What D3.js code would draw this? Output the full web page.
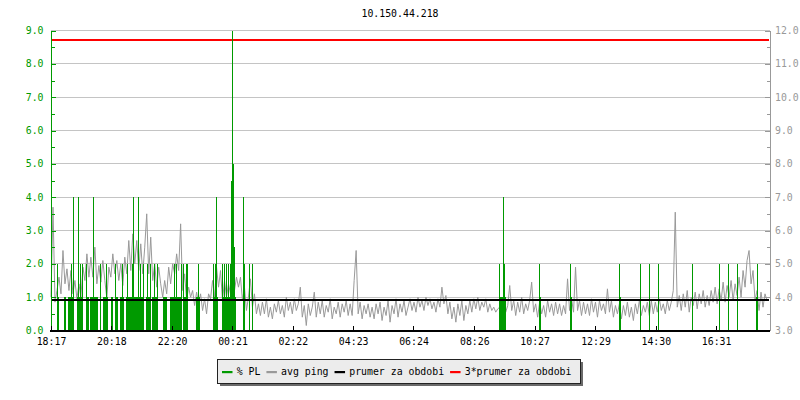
<!DOCTYPE html>
<html><head><meta charset="utf-8">
<script src="https://cdn.jsdelivr.net/npm/d3@7"></script>
<style>
body{margin:0;background:#fff;}
svg{display:block;font-family:"DejaVu Sans Mono",monospace;font-size:9.85px;}
</style></head><body>
<svg id="c" width="800" height="400"></svg>
<script>
const title = "10.150.44.218";
const startTime = "18:17";
const spanMinutes = 1440;
const timeTicks = ["18:17","20:18","22:20","00:21","02:22","04:23","06:24","08:26","10:27","12:29","14:30","16:31"];
const plTicks = [0,1,2,3,4,5,6,7,8,9];
const pingTicks = [3,4,5,6,7,8,9,10,11,12];
const pingStep = 4; // minutes between avg ping samples
const avgPing = [
 4.0,6.7,3.85,4.2,4.6,4.1,5.4,4.4,4.85,4.2,4.8,4.1,4.5,3.95,4.4,
 4.0,4.9,4.5,5.3,4.6,5.2,4.6,5.5,4.4,4.95,4.45,5.1,4.5,3.95,4.9,
 4.6,5.3,4.7,5.1,4.5,5.0,4.35,5.2,4.7,5.7,4.8,5.9,5.0,5.7,4.8,
 5.6,4.7,5.5,6.5,4.7,5.8,4.5,5.0,4.3,4.9,4.4,4.0,4.5,4.1,4.9,
 4.4,5.0,4.7,5.3,4.8,6.2,4.2,4.7,3.9,4.3,4.0,4.2,3.75,4.15,3.8,
 4.1,3.6,3.95,3.5,4.1,3.95,4.5,4.0,4.9,4.3,4.8,3.9,4.5,4.0,4.4,
 4.1,4.6,4.2,4.6,4.3,4.6,3.9,4.3,3.6,4.0,4.55,3.7,4.1,3.5,3.8,
 3.45,3.85,3.5,3.95,3.4,3.7,3.35,3.8,3.55,3.9,3.5,3.75,3.4,4.0,3.6,
 3.85,3.5,3.95,3.6,3.8,4.3,3.4,3.75,3.15,3.8,3.45,3.7,4.15,3.4,3.85,
 3.5,3.9,3.4,3.75,3.55,3.95,3.35,3.7,3.5,3.85,3.4,3.8,3.55,3.9,3.45,
 3.8,3.45,4.5,5.4,3.5,3.85,3.35,3.75,3.5,3.8,3.4,3.7,3.35,3.8,3.5,
 3.85,3.3,3.7,3.45,3.9,3.25,3.75,3.5,3.95,3.4,3.8,3.55,3.9,3.45,3.7,
 3.95,3.6,3.85,3.55,4.0,3.7,3.9,3.6,4.0,3.75,3.95,3.65,3.85,3.55,3.95,
 3.7,4.3,3.8,4.05,3.5,3.85,3.35,3.7,3.25,3.8,3.45,3.9,3.3,3.75,3.5,
 3.9,3.55,3.95,3.65,4.0,3.6,3.85,3.7,3.95,3.55,3.8,3.6,3.7,3.55,3.65,
 3.7,3.5,3.8,3.55,3.75,4.35,3.6,3.9,3.45,3.85,3.55,4.0,3.5,3.8,3.6,
 3.9,4.45,3.55,3.8,3.4,3.85,3.5,3.75,3.4,3.9,3.55,3.8,3.45,3.85,3.5,
 3.8,3.45,3.75,3.5,4.55,3.6,3.95,3.55,4.9,3.6,3.9,3.45,3.85,3.5,3.8,
 3.45,3.95,3.55,3.85,3.4,3.9,3.6,3.8,3.5,4.25,3.55,3.9,3.4,3.75,3.5,
 3.8,3.35,3.75,3.45,3.85,3.4,3.7,3.3,3.8,3.5,3.9,3.45,3.75,3.55,3.85,
 3.45,3.9,3.5,3.85,3.55,3.95,3.6,3.8,3.5,3.9,3.6,3.85,4.2,6.55,3.7,
 4.05,3.6,4.1,3.7,4.2,3.55,4.0,3.75,4.15,3.65,4.1,3.8,4.2,3.7,4.05,
 3.75,4.2,3.85,4.3,3.8,4.25,3.9,4.45,3.85,4.35,4.0,4.5,3.9,4.4,4.05,
 4.6,4.0,4.8,4.3,5.1,5.4,4.4,4.8,3.9,4.2,3.6,4.15,3.7,4.1,3.9
];
const plMinutes = [
 12,14, 26,28, 34,36,38,40,42,44, 52,54,56,58,60,62, 70,72,74, 78,80,82,84,86,88,90,92, 98,
 104,106,108,110,112, 120,122, 128,130,132, 138,140,142,144, 150,152,154,156,158,160,162,
 164,166,168,170,172,174,176,178,180,182,184, 190,192,194,196,198, 202,204,206,208,210,212,
 224,226,228,230, 238,240,242,244,246,248,250,252,254,256,258,260, 264,266,268,270,272, 290,292,294,296,
 324,326,328,330,332, 342,344,346,348,350,352,354,356,358,360,362,364,366,368,370, 386,388,398,404,
 898,900,902,904,906,908,910, 978,980, 1040,1042, 1140,1142, 1182,1200,1218,1286,1340,1358,1376,1414,1416];
const plValues = [
 2,1, 1,1, 1,1,1,2,1,4, 1,4,1,2,1,2, 2,1,1, 1,1,1,4,1,1,1,1, 2,
 1,1,1,2,1, 1,1, 2,1,1, 1,1,2,1, 1,2,1,1,1,1,2,
 4,1,1,1,1,4,1,2,1,1,2, 1,2,1,1,2, 1,1,2,1,1,2,
 1,1,1,1, 1,1,1,1,2,1,2,1,1,1,1,2, 2,1,1,2,2, 1,1,2,1,
 2,1,2,4,1, 2,1,2,1,2,1,2,1,2,1,4.5,9,5,2.5,1, 4,2,2,2,
 2,1,1,1,4,2,1, 2,1, 2,1, 2,1, 2,2,2,2,2,2,2,1,2];
const prumer = 3.91;
const legendLabels = ["% PL","avg ping","prumer za obdobi","3*prumer za obdobi"];
const legendColors = ["#009a00","#999999","#000000","#ff0000"];

const svg = d3.select("#c");
const X0 = 51, X1 = 769, Y0 = 330.5, Y1 = 30.5;
const x = d3.scaleLinear().domain([0, spanMinutes]).range([X0, X1]);
const yl = d3.scaleLinear().domain([0, 9]).range([Y0, Y1]);
const yr = d3.scaleLinear().domain([3, 12]).range([Y0, Y1]);
const toMin = s => { const [h,m] = s.split(":").map(Number); return h*60+m; };
const st = toMin(startTime);
const tickMin = timeTicks.map(t => ((toMin(t) - st) + 1440) % 1440);

// grid
svg.append("g").selectAll("line").data(plTicks).join("line")
  .attr("x1", X0).attr("x2", X1+1).attr("y1", d => yl(d)).attr("y2", d => yl(d))
  .attr("stroke", "#c4c4c4").attr("shape-rendering", "crispEdges");

// 3*prumer
svg.append("rect").attr("x", X0).attr("width", X1 - X0)
  .attr("y", Math.round(yr(prumer*3)) - 0.5).attr("height", 2)
  .attr("fill", "#ff0000").attr("shape-rendering", "crispEdges");

// avg ping
svg.append("path").datum(avgPing)
  .attr("d", d3.line().x((d,i) => x(i*pingStep)).y(d => yr(d)))
  .attr("fill", "none").attr("stroke", "#999999").attr("stroke-width", 1);

// % PL
svg.append("g").selectAll("rect").data(plMinutes).join("rect")
  .attr("x", d => x(d)).attr("width", d => Math.max(1, x(d+2)-x(d)))
  .attr("y", (d,i) => yl(plValues[i])).attr("height", (d,i) => Y0 - yl(plValues[i]))
  .attr("fill", "#009a00").attr("shape-rendering", "crispEdges");

// prumer
svg.append("line").attr("x1", X0).attr("x2", X1).attr("y1", yr(prumer)).attr("y2", yr(prumer))
  .attr("stroke", "#000").attr("stroke-width", 2).attr("shape-rendering", "crispEdges");

// left axis
const gl = svg.append("g").attr("transform", `translate(${X0-0.5},0)`)
  .call(d3.axisLeft(yl).tickValues(plTicks).tickFormat(d3.format(".1f")).tickSizeInner(-5).tickSizeOuter(0).tickPadding(7));
gl.append("g").call(d3.axisLeft(yl).tickValues(plTicks.slice(0,-1).map(d => d+0.5)).tickFormat("").tickSizeInner(-4).tickSizeOuter(0));
gl.selectAll("path,line").attr("stroke", "#009a00").attr("shape-rendering", "crispEdges");
gl.selectAll("text").attr("fill", "#009a00").style("font-size", "9.85px").style("font-family", "DejaVu Sans Mono");

// right axis
const gr = svg.append("g").attr("transform", `translate(${X1+1},0)`)
  .call(d3.axisRight(yr).tickValues(pingTicks).tickFormat(d3.format(".1f")).tickSizeInner(-5).tickSizeOuter(0).tickPadding(5));
gr.append("g").call(d3.axisRight(yr).tickValues(pingTicks.slice(0,-1).map(d => d+0.5)).tickFormat("").tickSizeInner(-3).tickSizeOuter(0));
gr.selectAll("path,line").attr("stroke", "#999").attr("shape-rendering", "crispEdges");
gr.selectAll("text").attr("fill", "#999").style("font-size", "9.85px").style("font-family", "DejaVu Sans Mono");

// bottom axis
const gb = svg.append("g").attr("transform", `translate(0,${Y0})`)
  .call(d3.axisBottom(x).tickValues(tickMin).tickFormat((d,i) => timeTicks[i]).tickSizeInner(-5).tickSizeOuter(0).tickPadding(8));
gb.select(".domain").attr("d", `M${X0-1},0.5H${X1+1}`).attr("stroke-width", 1.5);
gb.selectAll("path,line").attr("stroke", "#000").attr("shape-rendering", "crispEdges");
gb.selectAll("text").attr("fill", "#000").style("font-size", "9.85px").style("font-family", "DejaVu Sans Mono");

// title
svg.append("text").attr("x", 400).attr("y", 17).attr("text-anchor", "middle").attr("fill", "#000").text(title);

// legend
const LX = 217, LY = 359, LW = 363, LH = 24;
svg.append("rect").attr("x", LX+3).attr("y", LY+3).attr("width", LW).attr("height", LH).attr("fill", "#6a6a6a");
svg.append("rect").attr("x", LX+0.5).attr("y", LY+0.5).attr("width", LW).attr("height", LH).attr("fill", "#ececec").attr("stroke", "#222");
let cx = 222;
legendLabels.forEach((lab, i) => {
  svg.append("rect").attr("x", cx).attr("y", 371).attr("width", 10.5).attr("height", 2.2).attr("fill", legendColors[i]);
  const t = svg.append("text").attr("x", cx+14.7).attr("y", 374.5).attr("fill", "#000").text(lab);
  cx += 14.7 + t.node().getComputedTextLength() + 6;
});
</script>
</body></html>
